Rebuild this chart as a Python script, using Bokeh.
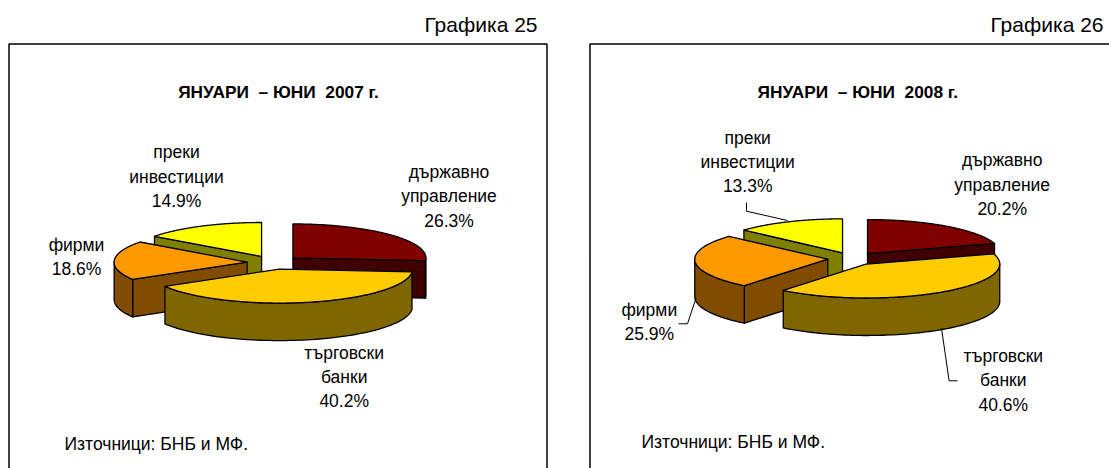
import numpy as np
from bokeh.plotting import figure
from bokeh.models import Range1d
from bokeh.core.properties import value
from bokeh.embed import file_html
from bokeh.resources import INLINE

# ---- data ----
categories = [["държавно", "управление"], ["търговски", "банки"], ["фирми"], ["преки", "инвестиции"]]
values_2007 = [26.3, 40.2, 18.6, 14.9]
values_2008 = [20.2, 40.6, 25.9, 13.3]
top_colors = ["#800000", "#FFCC00", "#FF9900", "#FFFF00"]
wall_colors = ["#400000", "#806600", "#804D00", "#808000"]
titles = ["ЯНУАРИ\u00a0\u00a0– ЮНИ\u00a0\u00a02007 г.", "ЯНУАРИ\u00a0\u00a0– ЮНИ\u00a0\u00a02008 г."]
captions = ["Графика 25", "Графика 26"]
source_note = "Източници: БНБ и МФ."

# ---- layout (image pixels) ----
W, H = 1109, 468
FONT = value("Liberation Sans")
A, B, DEPTH = 133.0, 34.0, 37.5

p = figure(width=W, height=H, x_range=Range1d(0, W), y_range=Range1d(H, 0),
           output_backend="svg", toolbar_location=None, min_border=0,
           background_fill_color="white", border_fill_color="white", outline_line_color=None)
p.axis.visible = False
p.grid.visible = False


def pie_polys(vals, cx, cy, explode):
    xs, ys, cols = [], [], []
    edges = np.concatenate([[0], np.cumsum(vals)]) / sum(vals) * 2 * np.pi

    def pt(ax, ay, t):
        return ax + A * np.sin(t), ay - B * np.cos(t)

    for i in [0, 3, 2, 1]:  # back slices first, front slice last
        t0, t1 = edges[i], edges[i + 1]
        mid = (t0 + t1) / 2
        ax = cx + explode * np.sin(mid)
        ay = cy - explode * B / A * np.cos(mid)
        # radial cut faces facing the viewer
        if np.sin(t0) < -1e-6:
            ex, ey = pt(ax, ay, t0)
            xs.append([ax, ex, ex, ax]); ys.append([ay, ey, ey + DEPTH, ay + DEPTH]); cols.append(wall_colors[i])
        if np.sin(t1) > 1e-6:
            ex, ey = pt(ax, ay, t1)
            xs.append([ax, ex, ex, ax]); ys.append([ay, ey, ey + DEPTH, ay + DEPTH]); cols.append(wall_colors[i])
        # outer wall
        w0, w1 = max(t0, np.pi / 2), min(t1, 3 * np.pi / 2)
        if w1 > w0:
            t = np.linspace(w0, w1, 80)
            ox, oy = pt(ax, ay, t)
            xs.append(list(ox) + list(ox[::-1]))
            ys.append(list(oy) + list((oy + DEPTH)[::-1]))
            cols.append(wall_colors[i])
        # top
        t = np.linspace(t0, t1, 120)
        ox, oy = pt(ax, ay, t)
        xs.append([ax] + list(ox)); ys.append([ay] + list(oy)); cols.append(top_colors[i])
    return xs, ys, cols


# boxes
p.multi_line(xs=[[8.5, 8.5, 546.5, 546.5], [589.5, 589.5, 1120]],
             ys=[[480, 43.5, 43.5, 480], [480, 43.5, 43.5]],
             line_color="black", line_width=1.5)

# pies
for vals, cx, cy, ex in [(values_2007, 273, 262, 26.4), (values_2008, 852.2, 258.2, 25)]:
    xs, ys, cols = pie_polys(vals, cx, cy, ex)
    p.patches(xs=xs, ys=ys, fill_color=cols, line_color="black", line_width=1.3, line_join="round")

# leader lines of the right chart
p.multi_line(xs=[[746, 746, 787], [695.5, 687, 678], [941, 948.6, 957]],
             ys=[[202, 210.7, 220], [297.7, 323.3, 323.3], [327.7, 380.3, 380.3]],
             line_color="black", line_width=1)


def text(x, y, s, size, align="center", style="normal"):
    p.text(x=[x], y=[y], text=[s], text_font=FONT, text_font_size=value(size),
           text_align=align, text_baseline="middle", text_color="black", text_font_style=style)


# captions, titles, notes
text(537, 24, captions[0], "21px", "right")
text(1103, 24, captions[1], "21px", "right")
text(278, 91.7, titles[0], "17.3px", style="bold")
text(857.3, 91.7, titles[1], "17.3px", style="bold")
text(64, 443.3, source_note, "17.5px", "left")
text(641, 441, source_note, "17.5px", "left")


def labels(vals, pos):
    for i, (x, ys_) in enumerate(pos):
        lines = categories[i] + [f"{vals[i]:.1f}%"]
        for line, y in zip(lines, ys_):
            text(x, y, line, "17.5px")


labels(values_2007, [(448.5, [171.7, 195.7, 220]), (343.7, [352.7, 376, 400.7]),
                     (76, [244.3, 268.3]), (176, [151.7, 176.3, 200])])
labels(values_2008, [(1001.7, [159.3, 184.3, 208.3]), (1002.8, [355.7, 379, 404]),
                     (648.8, [309.7, 333.3]), (747.2, [137.3, 161.7, 185.7])])

open("out.html", "w").write(file_html(p, INLINE))
